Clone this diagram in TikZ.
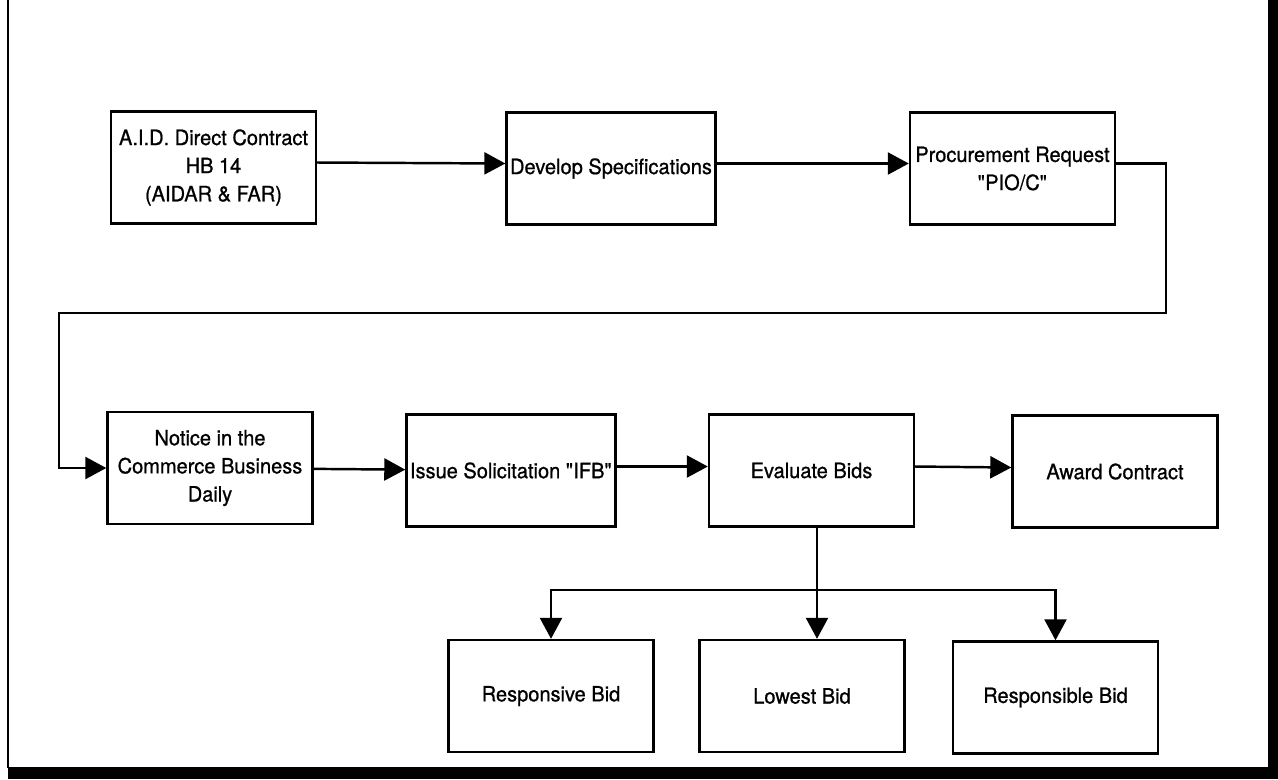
\documentclass[tikz,border=0pt]{standalone}
\usepackage{fontspec}
\setmainfont[FakeBold=0.8,FakeStretch=0.95]{TeX Gyre Heros}
\usetikzlibrary{arrows.meta}
\begin{document}
\begin{tikzpicture}[x=0.02cm,y=-0.02cm,
  box/.style={draw,line width=1.4pt,minimum width=4.1cm,minimum height=2.24cm,inner sep=2pt,align=center,font=\fontsize{12}{16}\selectfont},
  conn/.style={line width=1.4pt},
  arr/.style={conn,-{Triangle[length=0.42cm,width=0.44cm]}}]
\useasboundingbox (0,0) rectangle (1278,779);
% frame
\draw[line width=0.06cm] (8,0) -- (8,768);
\fill (8,767) rectangle (1278,779);
\fill (1268,0) rectangle (1278,779);
% row 1
\node[box] (aid) at (213.5,167.5) {A.I.D. Direct Contract\\HB 14\\(AIDAR \& FAR)};
\node[box] (dev) at (611,168.5) {Develop Specifications};
\node[box] (proc) at (1012.5,168.5) {Procurement Request\\\textquotedbl PIO/C\textquotedbl};
% row 2
\node[box] (cbd) at (210,468) {Notice in the\\Commerce Business\\Daily};
\node[box] (ifb) at (511,470.5) {Issue Solicitation \textquotedbl IFB\textquotedbl};
\node[box] (eval) at (811.5,470.5) {Evaluate Bids};
\node[box] (award) at (1115,471.5) {Award Contract};
% row 3
\node[box] (resp) at (551,696) {Responsive Bid};
\node[box] (low) at (802,696) {Lowest Bid};
\node[box] (rspb) at (1055.5,697.5) {Responsible Bid};
% connectors
\draw[arr] ([yshift=0.1cm]aid.east) -- ([yshift=0.1cm]dev.west);
\draw[arr] ([yshift=0.1cm]dev.east) -- ([yshift=0.1cm]proc.west);
\coordinate (r1) at (1166,313);
\coordinate (r2) at (59,313);
\draw[arr] ([yshift=0.1cm]proc.east) -| (r1) -- (r2) |- (cbd.west);
\draw[arr] (cbd) -- (ifb);
\draw[arr] ([yshift=0.08cm]ifb.east) -- ([yshift=0.08cm]eval.west);
\draw[arr] ([yshift=0.08cm]eval.east) -- ([yshift=0.08cm]award.west);
\coordinate (br) at (817,590);
\draw[arr] ([xshift=0.11cm]eval.south) -- ([xshift=0.11cm]eval.south |- low.north);
\draw[arr] (br) -| (resp.north);
\draw[arr] (br) -| (rspb.north);
\end{tikzpicture}
\end{document}
